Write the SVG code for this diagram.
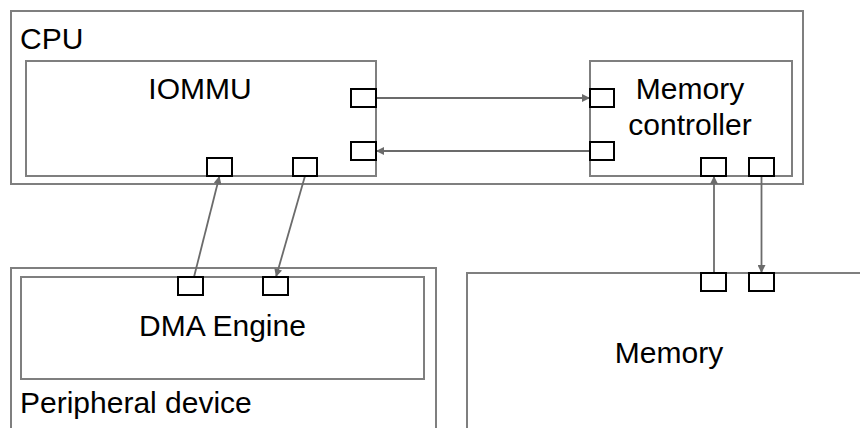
<svg xmlns="http://www.w3.org/2000/svg" width="860" height="428" viewBox="0 0 860 428">
<style>
.box{fill:none;stroke:#7f7f7f;stroke-width:2}
.port{fill:#fff;stroke:#000;stroke-width:2}
.conn{stroke:#6b6b6b;stroke-width:1.8;fill:none}
text{font-family:"Liberation Sans",Arial,sans-serif;font-size:30px;fill:#000}
.mid{text-anchor:middle}
</style>
<defs>
<marker id="arr" viewBox="0 0 10 10" refX="10" refY="5" markerWidth="9" markerHeight="8" markerUnits="userSpaceOnUse" orient="auto">
<path d="M0,0 L10,5 L0,10 z" fill="#6b6b6b"/>
</marker>
</defs>
<rect width="860" height="428" fill="#fff"/>
<g id="cpu">
<rect class="box" x="11" y="11" width="792" height="173"/>
<text x="20" y="49">CPU</text>
</g>
<g id="iommu">
<rect class="box" x="26" y="61" width="350" height="115"/>
<text class="mid" x="200" y="98.5">IOMMU</text>
</g>
<g id="memory-controller">
<rect class="box" x="590" y="61" width="202" height="115"/>
<text class="mid" x="690" y="98.5">Memory</text>
<text class="mid" x="690" y="135">controller</text>
</g>
<g id="peripheral-device">
<rect class="box" x="11" y="268" width="425" height="180"/>
<text x="20" y="413">Peripheral device</text>
</g>
<g id="dma-engine">
<rect class="box" x="21" y="277" width="403" height="102"/>
<text class="mid" x="222.5" y="336">DMA Engine</text>
</g>
<g id="memory">
<rect class="box" x="467" y="273" width="420" height="200"/>
<text class="mid" x="669" y="363">Memory</text>
</g>
<g id="connectors">
<line class="conn" x1="376" y1="98" x2="590" y2="98" marker-end="url(#arr)"/>
<line class="conn" x1="590" y1="151" x2="376" y2="151" marker-end="url(#arr)"/>
<line class="conn" x1="194" y1="277" x2="219.5" y2="176" marker-end="url(#arr)"/>
<line class="conn" x1="305" y1="176" x2="276" y2="277" marker-end="url(#arr)"/>
<line class="conn" x1="714" y1="273" x2="714" y2="176" marker-end="url(#arr)"/>
<line class="conn" x1="761.5" y1="176" x2="761.5" y2="273" marker-end="url(#arr)"/>
</g>
<g id="ports">
<rect class="port" x="351" y="89" width="25" height="18"/>
<rect class="port" x="351" y="142" width="25" height="18"/>
<rect class="port" x="207" y="158" width="25" height="18"/>
<rect class="port" x="293" y="158" width="24" height="18"/>
<rect class="port" x="590" y="89" width="24" height="18"/>
<rect class="port" x="590" y="142" width="24" height="18"/>
<rect class="port" x="701" y="158" width="25" height="18"/>
<rect class="port" x="749" y="158" width="25" height="18"/>
<rect class="port" x="178" y="277" width="25" height="18"/>
<rect class="port" x="263" y="277" width="25" height="18"/>
<rect class="port" x="701" y="273" width="25" height="18"/>
<rect class="port" x="749" y="273" width="25" height="18"/>
</g>
</svg>
